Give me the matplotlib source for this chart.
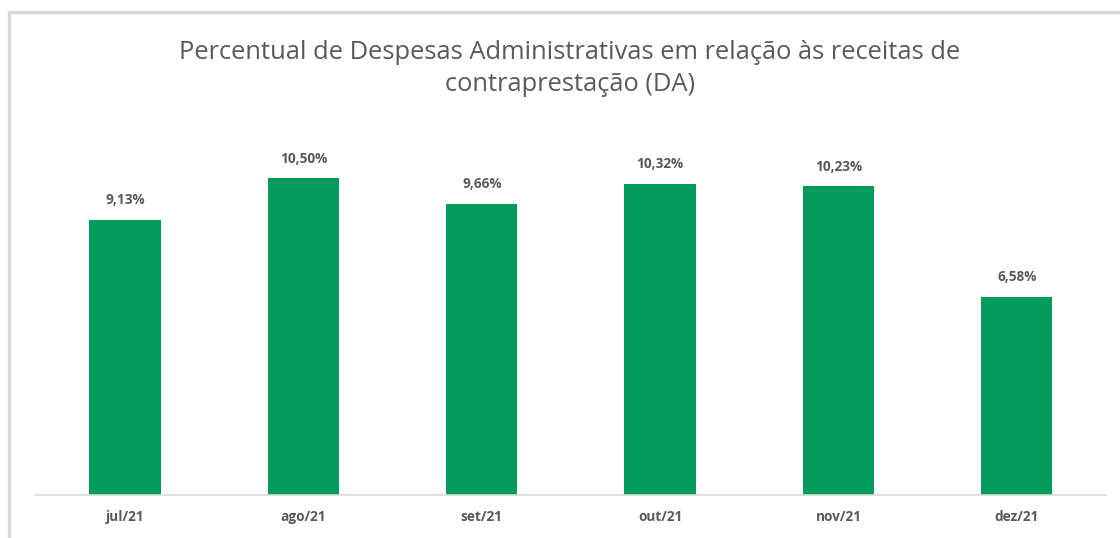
import matplotlib

matplotlib.use("Agg", force=True)
import matplotlib.pyplot as plt
from matplotlib.patches import Rectangle

# Data
months = ["jul/21", "ago/21", "set/21", "out/21", "nov/21", "dez/21"]
da_percent = [9.13, 10.50, 9.66, 10.32, 10.23, 6.58]

title = "Percentual de Despesas Administrativas em relação às receitas de\ncontraprestação (DA)"
bar_color = "#009A5B"
text_color = "#595959"
line_color = "#D9D9D9"

plt.rcParams["font.family"] = ["Open Sans", "DejaVu Sans"]

fig = plt.figure(figsize=(11.2, 5.38), dpi=100)
ax = fig.add_axes([0.0321, 0.0799, 0.9554, 0.6729])

x = range(len(months))
ax.bar(x, da_percent, width=0.4, color=bar_color)

for xi, val in zip(x, da_percent):
    label = f"{val:.2f}%".replace(".", ",")
    ax.annotate(label, (xi, val), xytext=(0, 9), textcoords="offset points",
                ha="center", va="bottom", fontsize=9.8, fontweight="bold", color=text_color)

ax.set_xlim(-0.5, len(months) - 0.5)
ax.set_ylim(0, 12)
ax.set_xticks(list(x))
ax.set_xticklabels(months, fontsize=9.8, fontweight="bold", color=text_color)
ax.tick_params(axis="x", length=0, pad=11)
ax.set_yticks([])
for side in ["top", "left", "right"]:
    ax.spines[side].set_visible(False)
ax.spines["bottom"].set_color(line_color)
ax.spines["bottom"].set_linewidth(1.2)

fig.text(0.509, 0.8727, title, ha="center", va="center", fontsize=18.4,
         color=text_color, linespacing=1.4)

# chart frame (cropped at the right and bottom edges)
frame = Rectangle((9 / 1120, -0.05), 1.2, 1 - 12 / 538 + 0.05, transform=fig.transFigure,
                  fill=False, edgecolor=line_color, linewidth=2.5)
fig.patches.append(frame)

fig.savefig("out.png", dpi=100)
